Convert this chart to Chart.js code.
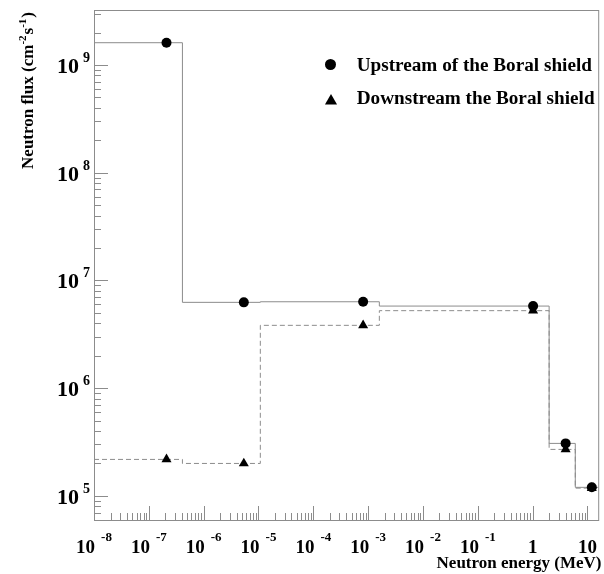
<!DOCTYPE html>
<html>
<head>
<meta charset="utf-8">
<script src="https://cdn.jsdelivr.net/npm/chart.js@4.4.1/dist/chart.umd.min.js"></script>
<style>
  html, body { margin: 0; padding: 0; background: #fff; }
  #wrap { width: 604px; height: 574px; }
</style>
</head>
<body>
<div id="wrap"><canvas id="fluxChart" width="604" height="574"></canvas></div>
<script>
// energy bin edges (MeV) and flux per bin (cm^-2 s^-1)
const binEdges = [1e-8, 4.1e-7, 1.08e-5, 1.6e-3, 2, 6, 20];
const upstreamFlux = [1.61e9, 6.26e6, 6.34e6, 5.78e6, 3.07e5, 1.2e5];
const downstreamFlux = [2.18e5, 2.0e5, 3.83e6, 5.24e6, 2.7e5, 1.18e5];
// energies where the markers sit
const pointEnergy = [2.1e-7, 5.4e-6, 8.1e-4, 1.02, 4.0, 12];
// decades that get a label
const xTickExp = [-8, -7, -6, -5, -4, -3, -2, -1, 0, 1];
const yTickExp = [5, 6, 7, 8, 9];
const xRange = [1e-8, 15.7];
const yRange = [5.97e4, 3.24e9];

const seriesNames = ['Upstream of the Boral shield', 'Downstream the Boral shield'];

const FONT = '"Liberation Serif", "Times New Roman", serif';
const gray = '#8c8c8c';

// histogram outline: one point per left edge plus the last right edge
function stepPoints(vals) {
  const pts = vals.map((v, i) => ({ x: binEdges[i], y: v }));
  pts.push({ x: binEdges[vals.length], y: vals[vals.length - 1] });
  return pts;
}
function markerPoints(vals) {
  return vals.map((v, i) => ({ x: pointEnergy[i], y: v }));
}

// frame, inside ticks, power-of-ten labels, titles and legend
const rootStyle = {
  id: 'rootStyle',
  afterDraw(chart) {
    const ctx = chart.ctx;
    const a = chart.chartArea;
    const xs = chart.scales.x, ys = chart.scales.y;
    ctx.save();

    // ticks
    ctx.strokeStyle = gray;
    ctx.lineWidth = 1;
    ctx.beginPath();
    for (let e = 4; e <= 9; e++) {
      for (let k = 1; k <= 9; k++) {
        const v = k * Math.pow(10, e);
        if (v < yRange[0] || v > yRange[1]) continue;
        const y = Math.round(ys.getPixelForValue(v)) + 0.5;
        const len = k === 1 ? 14 : 7;
        ctx.moveTo(a.left, y);
        ctx.lineTo(a.left + len, y);
      }
    }
    for (let e = -8; e <= 1; e++) {
      for (let k = 1; k <= 9; k++) {
        const v = k * Math.pow(10, e);
        if (v < xRange[0] || v > xRange[1]) continue;
        const x = Math.round(xs.getPixelForValue(v)) + 0.5;
        const len = k === 1 ? 14 : 7;
        ctx.moveTo(x, a.bottom);
        ctx.lineTo(x, a.bottom - len);
      }
    }
    ctx.stroke();

    // frame
    ctx.strokeRect(a.left + 0.5, a.top + 0.5, a.right - a.left, a.bottom - a.top);

    ctx.fillStyle = '#000';
    ctx.textBaseline = 'alphabetic';

    // x labels
    xTickExp.forEach(e => {
      const x = xs.getPixelForValue(Math.pow(10, e));
      let base = '10', sup = String(e);
      if (e === 0) { base = '1'; sup = ''; }
      if (e === 1) { base = '10'; sup = ''; }
      ctx.font = 'bold 19px ' + FONT;
      const wb = ctx.measureText(base).width;
      ctx.font = 'bold 13px ' + FONT;
      const ws = sup ? ctx.measureText(sup).width : 0;
      const gap = sup ? 6 : 0;
      const start = x - (wb + gap + ws) / 2;
      ctx.textAlign = 'left';
      ctx.font = 'bold 19px ' + FONT;
      ctx.fillText(base, start, 553);
      if (sup) {
        ctx.font = 'bold 13px ' + FONT;
        ctx.fillText(sup, start + wb + gap, 541);
      }
    });

    // y labels
    yTickExp.forEach(e => {
      const y = ys.getPixelForValue(Math.pow(10, e));
      const sup = String(e);
      ctx.font = 'bold 14px ' + FONT;
      const ws = ctx.measureText(sup).width;
      ctx.textAlign = 'right';
      ctx.fillText(sup, 90, y - 3);
      ctx.font = 'bold 22px ' + FONT;
      ctx.fillText('10', 90 - ws - 4, y + 8);
    });

    // x title
    ctx.font = 'bold 17px ' + FONT;
    ctx.textAlign = 'right';
    ctx.fillText('Neutron energy (MeV)', 601.5, 568);

    // y title, rotated, with superscripts
    const parts = [
      { t: 'Neutron flux (cm', s: false },
      { t: '-2', s: true },
      { t: 's', s: false },
      { t: '-1', s: true },
      { t: ')', s: false }
    ];
    let total = 0;
    parts.forEach(p => {
      ctx.font = 'bold ' + (p.s ? 11 : 17) + 'px ' + FONT;
      p.w = ctx.measureText(p.t).width + (p.s ? 1 : 0);
      total += p.w;
    });
    ctx.translate(33, 12);
    ctx.rotate(-Math.PI / 2);
    ctx.textAlign = 'left';
    let cx = -total;
    parts.forEach(p => {
      ctx.font = 'bold ' + (p.s ? 11 : 17) + 'px ' + FONT;
      ctx.fillText(p.t, cx, p.s ? -7 : 0);
      cx += p.w;
    });
    ctx.setTransform(1, 0, 0, 1, 0, 0);

    // legend
    ctx.fillStyle = '#000';
    Chart.helpers.drawPoint(ctx, { pointStyle: 'circle', radius: 5.5, rotation: 0, borderWidth: 0 }, 330.5, 64.5);
    Chart.helpers.drawPoint(ctx, { pointStyle: 'triangle', radius: 7, rotation: 0, borderWidth: 0 }, 331, 101);
    ctx.font = 'bold 19.2px ' + FONT;
    ctx.textAlign = 'left';
    ctx.fillText(seriesNames[0], 356.7, 70.7);
    ctx.fillText(seriesNames[1], 356.7, 104);

    ctx.restore();
  }
};

new Chart(document.getElementById('fluxChart'), {
  data: {
    datasets: [
      {
        type: 'scatter',
        label: seriesNames[0],
        data: markerPoints(upstreamFlux),
        pointStyle: 'circle',
        pointRadius: 5,
        pointBorderWidth: 0,
        backgroundColor: '#000',
        borderColor: '#000'
      },
      {
        type: 'scatter',
        label: seriesNames[1],
        data: markerPoints(downstreamFlux),
        pointStyle: 'triangle',
        pointRadius: 5.8,
        pointBorderWidth: 0,
        backgroundColor: '#000',
        borderColor: '#000'
      },
      {
        type: 'line',
        data: stepPoints(upstreamFlux),
        stepped: true,
        borderColor: gray,
        borderWidth: 1,
        pointRadius: 0,
        fill: false
      },
      {
        type: 'line',
        data: stepPoints(downstreamFlux),
        stepped: true,
        borderColor: gray,
        borderWidth: 1,
        borderDash: [5, 3],
        pointRadius: 0,
        fill: false
      }
    ]
  },
  options: {
    responsive: false,
    devicePixelRatio: 1,
    animation: false,
    layout: { padding: { left: 94, top: 10, right: 3, bottom: 54 } },
    plugins: { legend: { display: false }, tooltip: { enabled: false } },
    scales: {
      x: { type: 'logarithmic', min: xRange[0], max: xRange[1], display: false },
      y: { type: 'logarithmic', min: yRange[0], max: yRange[1], display: false }
    }
  },
  plugins: [rootStyle]
});
</script>
</body>
</html>
